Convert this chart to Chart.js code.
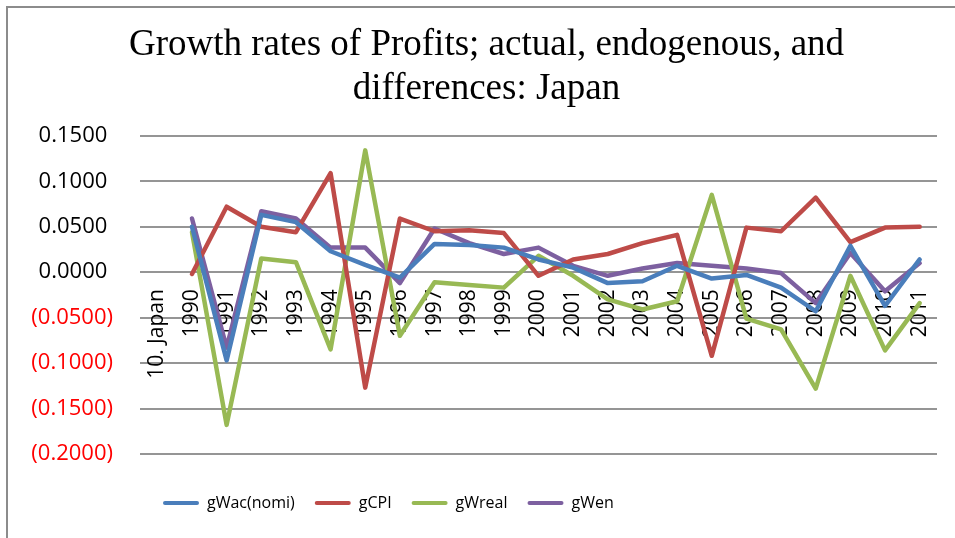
<!DOCTYPE html>
<html>
<head>
<meta charset="utf-8">
<script src="https://cdn.jsdelivr.net/npm/chart.js@4.4.1/dist/chart.umd.min.js"></script>
<style>
  html, body { margin: 0; padding: 0; background: #fff; }
  #wrap { width: 955px; height: 538px; }
</style>
</head>
<body>
<div id="wrap"><canvas id="myChart"></canvas></div>
<script>
// categories (first slot is the country label, no data)
const categories = ['10. Japan', '1990', '1991', '1992', '1993', '1994', '1995', '1996', '1997', '1998', '1999',
    '2000', '2001', '2002', '2003', '2004', '2005', '2006', '2007', '2008', '2009', '2010', '2011'];

const gWacNomi = [null, 0.050, -0.097, 0.063, 0.055, 0.023, 0.008, -0.006, 0.031, 0.030, 0.027,
    0.014, 0.005, -0.012, -0.010, 0.007, -0.007, -0.003, -0.017, -0.043, 0.029, -0.037, 0.014];
const gCPI = [null, -0.002, 0.072, 0.050, 0.044, 0.109, -0.127, 0.059, 0.045, 0.046, 0.043,
    -0.004, 0.014, 0.020, 0.032, 0.041, -0.092, 0.049, 0.045, 0.082, 0.033, 0.049, 0.050];
const gWreal = [null, 0.044, -0.168, 0.015, 0.011, -0.085, 0.134, -0.070, -0.011, -0.014, -0.017,
    0.018, -0.004, -0.030, -0.041, -0.032, 0.085, -0.051, -0.063, -0.128, -0.004, -0.086, -0.034];
const gWen = [null, 0.059, -0.083, 0.067, 0.059, 0.027, 0.027, -0.012, 0.048, 0.032, 0.020,
    0.027, 0.007, -0.004, 0.004, 0.010, 0.007, 0.004, -0.001, -0.034, 0.021, -0.021, 0.010];

const yMin = -0.2;
const yMax = 0.15;
const yStep = 0.05;

function fmtTick(v) {
    if (Math.abs(v) < 1e-9) return '0.0000 ';
    return v < 0 ? '(' + Math.abs(v).toFixed(4) + ')' : v.toFixed(4) + ' ';
}

// frame around the chart
const framePlugin = {
    id: 'frame',
    beforeDraw(chart) {
        const ctx = chart.ctx;
        ctx.save();
        ctx.strokeStyle = '#8c8c8c';
        ctx.lineWidth = 2;
        ctx.strokeRect(7, 7, 1200, 1200);
        ctx.restore();
    }
};

// category labels sit on the zero line, rotated
const catLabelsPlugin = {
    id: 'catLabels',
    beforeDatasetsDraw(chart) {
        const { ctx, scales: { x, y } } = chart;
        const top = y.getPixelForValue(0) + 17;
        ctx.save();
        ctx.font = '21px "Open Sans"';
        ctx.fillStyle = '#000';
        ctx.textAlign = 'right';
        ctx.textBaseline = 'middle';
        categories.forEach((lab, i) => {
            ctx.save();
            ctx.translate(x.getPixelForValue(i), top);
            ctx.rotate(-Math.PI / 2);
            ctx.fillText(lab, 0, 0);
            ctx.restore();
        });
        ctx.restore();
    }
};

// legend starts left of centre, like the original
const legendShift = {
    id: 'legendShift',
    afterLayout(chart) {
        if (chart.legend) chart.legend.left = 143;
    }
};

function series(label, data, color) {
    return {
        label: label,
        data: data,
        borderColor: color,
        backgroundColor: color,
        borderWidth: 4.5,
        borderJoinStyle: 'round',
        borderCapStyle: 'round',
        pointRadius: 0,
        tension: 0,
        spanGaps: false
    };
}

new Chart(document.getElementById('myChart'), {
    type: 'line',
    data: {
        labels: categories,
        datasets: [
            series('gWac(nomi)', gWacNomi, '#4a7ebb'),
            series('gCPI', gCPI, '#be4b48'),
            series('gWreal', gWreal, '#98b954'),
            series('gWen', gWen, '#7d60a0')
        ]
    },
    options: {
        responsive: true,
        maintainAspectRatio: false,
        animation: false,
        layout: {
            padding: { left: 18, right: 0, top: 0, bottom: 17 }
        },
        scales: {
            x: {
                type: 'category',
                offset: true,
                grid: { display: false },
                border: { display: false },
                ticks: { display: false },
                afterFit(scale) {
                    scale.height = 21;
                }
            },
            y: {
                min: yMin,
                max: yMax,
                border: { display: false },
                grid: {
                    color: '#959595',
                    lineWidth: 2,
                    drawTicks: false
                },
                ticks: {
                    stepSize: yStep,
                    padding: 27,
                    font: { family: 'Open Sans', size: 22 },
                    color: c => c.tick.value < -1e-9 ? '#ff0000' : '#000',
                    callback: v => fmtTick(v)
                },
                afterFit(scale) {
                    scale.width = 122;
                }
            },
            // empty right margin so the plot ends where the original does
            yRight: {
                position: 'right',
                grid: { display: false },
                border: { display: false },
                ticks: { display: false },
                afterFit(scale) {
                    scale.width = 18;
                }
            }
        },
        plugins: {
            title: {
                display: true,
                text: ['Growth rates of Profits; actual, endogenous, and', 'differences: Japan'],
                color: '#000',
                font: { family: 'Liberation Serif', size: 37, weight: 'normal', lineHeight: 1.2 },
                padding: { top: 23, bottom: 24 }
            },
            legend: {
                position: 'bottom',
                align: 'start',
                labels: {
                    color: '#000',
                    font: { family: 'Open Sans', size: 16 },
                    boxWidth: 36,
                    boxHeight: 4,
                    padding: 20,
                    generateLabels(chart) {
                        const items = Chart.defaults.plugins.legend.labels.generateLabels(chart);
                        items.forEach(it => { it.lineWidth = 0; it.borderRadius = 2; });
                        return items;
                    }
                }
            },
            tooltip: { enabled: false }
        }
    },
    plugins: [framePlugin, catLabelsPlugin, legendShift]
});
</script>
</body>
</html>
